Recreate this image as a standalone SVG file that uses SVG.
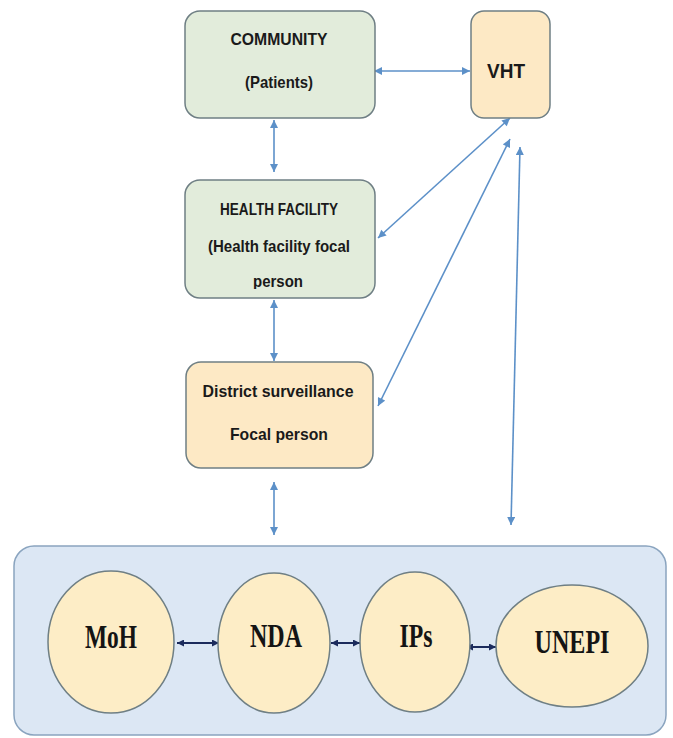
<svg xmlns="http://www.w3.org/2000/svg" width="673" height="738" viewBox="0 0 673 738">
<style>
.box{stroke:#6f7f84;stroke-width:1.5}
.green{fill:#e2ecdb}
.orange{fill:#fde9c5}
.lbl{font-family:"Liberation Sans",Arial,sans-serif;font-weight:bold;fill:#1a1a1a;text-anchor:middle}
.ell{fill:#fdedc6;stroke:#6f7f84;stroke-width:1.5}
.big{font-family:"Liberation Serif","Times New Roman",serif;font-weight:bold;fill:#141414;text-anchor:middle;font-size:33px}
.blue{stroke:#5c90c8;stroke-width:1.6;fill:none;marker-start:url(#ab);marker-end:url(#ab)}
.navy{stroke:#1b2b5c;stroke-width:2;fill:none;marker-start:url(#an);marker-end:url(#an)}
</style>
<defs>
<marker id="ab" viewBox="0 0 10 10" refX="10" refY="5" markerWidth="9" markerHeight="8" markerUnits="userSpaceOnUse" orient="auto-start-reverse">
<path d="M0,0 L10,5 L0,10 z" fill="#5c90c8"/>
</marker>
<marker id="an" viewBox="0 0 10 10" refX="10" refY="5" markerWidth="7" markerHeight="7" markerUnits="userSpaceOnUse" orient="auto-start-reverse">
<path d="M0,0 L10,5 L0,10 z" fill="#1b2b5c"/>
</marker>
<clipPath id="hfclip"><rect x="185" y="180" width="190" height="109"/></clipPath>
</defs>
<rect width="673" height="738" fill="#ffffff"/>

<g id="container">
<rect x="14" y="546" width="652" height="189" rx="20" fill="#dce7f4" stroke="#8aa4bf" stroke-width="1.5"/>
</g>

<g id="connectors">
<line class="blue" x1="374" y1="71" x2="470" y2="71"/>
<line class="blue" x1="274" y1="120" x2="274" y2="172"/>
<line class="blue" x1="510" y1="118" x2="378" y2="238"/>
<line class="blue" x1="510" y1="139" x2="378" y2="406"/>
<line class="blue" x1="520" y1="147" x2="511" y2="525"/>
<line class="blue" x1="274" y1="300" x2="274" y2="361"/>
<line class="blue" x1="274" y1="482" x2="274" y2="535"/>
<line class="navy" x1="177" y1="643" x2="219" y2="643"/>
<line class="navy" x1="331" y1="643" x2="360" y2="643"/>
<line class="navy" x1="466" y1="647" x2="496" y2="647"/>
</g>

<g id="community">
<rect class="box green" x="185" y="11" width="190" height="107" rx="15"/>
<text class="lbl" x="279" y="45" font-size="17" textLength="97" lengthAdjust="spacingAndGlyphs">COMMUNITY</text>
<text class="lbl" x="279" y="88" font-size="17" textLength="68" lengthAdjust="spacingAndGlyphs">(Patients)</text>
</g>

<g id="vht">
<rect class="box orange" x="471" y="11" width="79" height="107" rx="13"/>
<text class="lbl" x="506" y="78" font-size="21" textLength="38" lengthAdjust="spacingAndGlyphs">VHT</text>
</g>

<g id="health-facility">
<rect class="box green" x="185" y="180" width="190" height="118" rx="15"/>
<text class="lbl" x="279" y="215" font-size="17" textLength="118" lengthAdjust="spacingAndGlyphs">HEALTH FACILITY</text>
<text class="lbl" x="279" y="252" font-size="17" textLength="142" lengthAdjust="spacingAndGlyphs">(Health facility focal</text>
<text class="lbl" x="278" y="287" font-size="17" textLength="50" lengthAdjust="spacingAndGlyphs" clip-path="url(#hfclip)">person</text>
</g>

<g id="district">
<rect class="box orange" x="186" y="362" width="187" height="106" rx="15"/>
<text class="lbl" x="278" y="397" font-size="17" textLength="151" lengthAdjust="spacingAndGlyphs">District surveillance</text>
<text class="lbl" x="279" y="440" font-size="17" textLength="98" lengthAdjust="spacingAndGlyphs">Focal person</text>
</g>

<g id="moh">
<ellipse class="ell" cx="111" cy="642" rx="63" ry="71"/>
<text class="big" x="111" y="648" textLength="52" lengthAdjust="spacingAndGlyphs">MoH</text>
</g>

<g id="nda">
<ellipse class="ell" cx="274" cy="643" rx="56" ry="70"/>
<text class="big" x="276" y="647" textLength="52" lengthAdjust="spacingAndGlyphs">NDA</text>
</g>

<g id="ips">
<ellipse class="ell" cx="415" cy="642" rx="55" ry="70"/>
<text class="big" x="416" y="647" textLength="33" lengthAdjust="spacingAndGlyphs">IPs</text>
</g>

<g id="unepi">
<ellipse class="ell" cx="572" cy="646" rx="76" ry="61"/>
<text class="big" x="572" y="653" textLength="75" lengthAdjust="spacingAndGlyphs">UNEPI</text>
</g>
</svg>
